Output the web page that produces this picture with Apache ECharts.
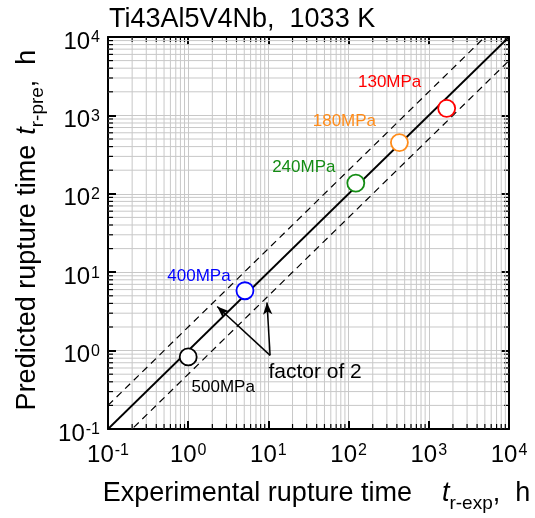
<!DOCTYPE html>
<html>
<head>
<meta charset="utf-8">
<script src="https://cdn.jsdelivr.net/npm/echarts@6/dist/echarts.min.js"></script>
<style>html,body{margin:0;padding:0;background:#fff}#c{width:535px;height:518px}</style>
</head>
<body>
<div id="c"></div>
<script>
// ---- data ----
const tickValues = [0.1, 1, 10, 100, 1000, 10000];
const tickExponents = ['-1', '0', '1', '2', '3', '4'];
const decades = [0.1, 1, 10, 100, 1000];
const minorMultipliers = [2, 3, 4, 5, 6, 7, 8, 9];
const refLineX = [0.1, 10000];
const factor = 2;
const stressLabels = ['130MPa', '180MPa', '240MPa', '400MPa', '500MPa'];
const expTime = [1670, 430, 123, 5.1, 1.0];
const predTime = [1230, 450, 137, 5.8, 0.83];
const pointColors = ['#ff0000', '#ff8c1a', '#148c14', '#0000ff', '#000000'];
const arrowTail = [10.5, 0.87];
const arrowTips = [[2.3, 3.65], [9.6, 4.1]];

// ---- derived ----
const minorValues = [];
decades.forEach(d => minorMultipliers.forEach(m => minorValues.push(+(d * m).toPrecision(3))));
const FONT = 'Liberation Sans, Arial, sans-serif';
const labelOffsets = [[-57, -26], [-55, -21], [-52, -16], [-46, -14], [35, 30]];

const chart = echarts.init(document.getElementById('c'), null, {renderer: 'canvas'});

function tickFmt(value) {
  const i = tickValues.findIndex(t => Math.abs(Math.log10(t) - Math.log10(value)) < 1e-6);
  const e = i >= 0 ? tickExponents[i] : String(Math.round(Math.log10(value)));
  return '{b|10}{s|' + e + '}';
}
const tickRich = {
  b: {fontSize: 24, fontFamily: FONT, color: '#000', verticalAlign: 'bottom'},
  s: {fontSize: 16, fontFamily: FONT, color: '#000', verticalAlign: 'top', padding: [0, 0, 0, 1]}
};

function makeAxis(pos, isX, showLabel) {
  return {
    type: 'log', logBase: 10, min: 0.1, max: 10000, position: pos,
    axisLine: {show: true, onZero: false, lineStyle: {color: '#000', width: 2}},
    axisTick: {show: true, inside: true, length: 8, lineStyle: {color: '#000', width: 2}},
    axisLabel: {show: showLabel, formatter: tickFmt, rich: tickRich, margin: isX ? 14 : 8,
      padding: isX ? 0 : [10, 0, 0, 0]},
    splitLine: {show: showLabel, lineStyle: {color: '#c8c8c8', width: 1}},
    minorTick: {show: false},
    minorSplitLine: {show: false}
  };
}

const nameRich = (gap) => ({
  n: {fontSize: 27, fontFamily: FONT, color: '#000', verticalAlign: 'bottom'},
  g: {width: gap},
  i: {fontSize: 27, fontFamily: FONT, fontStyle: 'italic', color: '#000', verticalAlign: 'bottom'},
  sub: {fontSize: 19, fontFamily: FONT, color: '#000', verticalAlign: 'bottom', padding: [0, 0, -6, 0]}
});

const xMain = makeAxis('bottom', true, true);
xMain.name = '{n|Experimental rupture time}{g|}{i|t}{sub|r-exp}{n|,  h}';
xMain.nameLocation = 'middle';
xMain.nameGap = 51;
xMain.nameTextStyle = {padding: [0, 0, 0, 16], rich: nameRich(30)};
const yMain = makeAxis('left', false, true);
yMain.name = '{n|Predicted rupture time}{g|}{i|t}{sub|r-pre}{n|,  h}';
yMain.nameLocation = 'middle';
yMain.nameRotate = 90;
yMain.nameGap = 62;
yMain.nameTextStyle = {padding: [0, 0, 0, 6], rich: nameRich(10)};

const option = {
  animation: false,
  backgroundColor: '#fff',
  title: {
    text: 'Ti43Al5V4Nb,  1033 K', left: 104, top: 1,
    textStyle: {fontSize: 27, fontWeight: 'normal', fontFamily: FONT, color: '#000'}
  },
  grid: {left: 108, top: 37, width: 401, height: 400, containLabel: false},
  xAxis: [xMain, makeAxis('top', true, false)],
  yAxis: [yMain, makeAxis('right', false, false)],
  series: [
    {
      type: 'custom', z: 1, silent: true,
      data: minorValues.map(v => [v, v]),
      renderItem: function (params, api) {
        const v = api.value(0);
        const p = api.coord([v, v]);
        const cs = params.coordSys;
        const gray = {stroke: '#c8c8c8', lineWidth: 1};
        const blk = {stroke: '#000', lineWidth: 1.2};
        const t = 5;
        const x0 = cs.x, x1 = cs.x + cs.width, y0 = cs.y, y1 = cs.y + cs.height;
        return {type: 'group', children: [
          {type: 'line', shape: {x1: p[0], y1: y0, x2: p[0], y2: y1}, style: gray},
          {type: 'line', shape: {x1: x0, y1: p[1], x2: x1, y2: p[1]}, style: gray},
          {type: 'line', shape: {x1: p[0], y1: y1, x2: p[0], y2: y1 - t}, style: blk},
          {type: 'line', shape: {x1: p[0], y1: y0, x2: p[0], y2: y0 + t}, style: blk},
          {type: 'line', shape: {x1: x0, y1: p[1], x2: x0 + t, y2: p[1]}, style: blk},
          {type: 'line', shape: {x1: x1, y1: p[1], x2: x1 - t, y2: p[1]}, style: blk}
        ]};
      }
    },
    {
      type: 'line', z: 3, symbol: 'none', silent: true,
      data: refLineX.map(x => [x, x]),
      lineStyle: {color: '#000', width: 1.8}
    },
    {
      type: 'line', z: 3, symbol: 'none', silent: true,
      data: refLineX.map(x => [x, x * factor]),
      lineStyle: {color: '#000', width: 1.2, type: [7, 5]}
    },
    {
      type: 'line', z: 3, symbol: 'none', silent: true,
      data: refLineX.map(x => [x, x / factor]),
      lineStyle: {color: '#000', width: 1.2, type: [7, 5]},
      markLine: {
        silent: true, symbol: ['none', 'arrow'], symbolSize: [7, 12],
        label: {show: false},
        lineStyle: {color: '#000', width: 1.5, type: 'solid'},
        data: arrowTips.map(tip => [{coord: arrowTail}, {coord: tip}])
      },
      markPoint: {
        silent: true, symbol: 'circle', symbolSize: 0,
        label: {show: true, formatter: 'factor of 2', fontSize: 21, fontFamily: FONT, color: '#000',
          position: 'inside', offset: [45, 17]},
        data: [{coord: arrowTail}]
      }
    },
    {
      type: 'scatter', z: 5, symbol: 'circle', symbolSize: 17, silent: true,
      data: expTime.map((x, i) => ({
        value: [x, predTime[i]],
        name: stressLabels[i],
        itemStyle: {color: '#fff', borderColor: pointColors[i], borderWidth: 1.8, opacity: 1},
        label: {
          show: true, position: 'inside', formatter: stressLabels[i],
          offset: labelOffsets[i], color: pointColors[i], fontSize: 17, fontFamily: FONT
        }
      }))
    }
  ]
};
chart.setOption(option);
</script>
</body>
</html>
